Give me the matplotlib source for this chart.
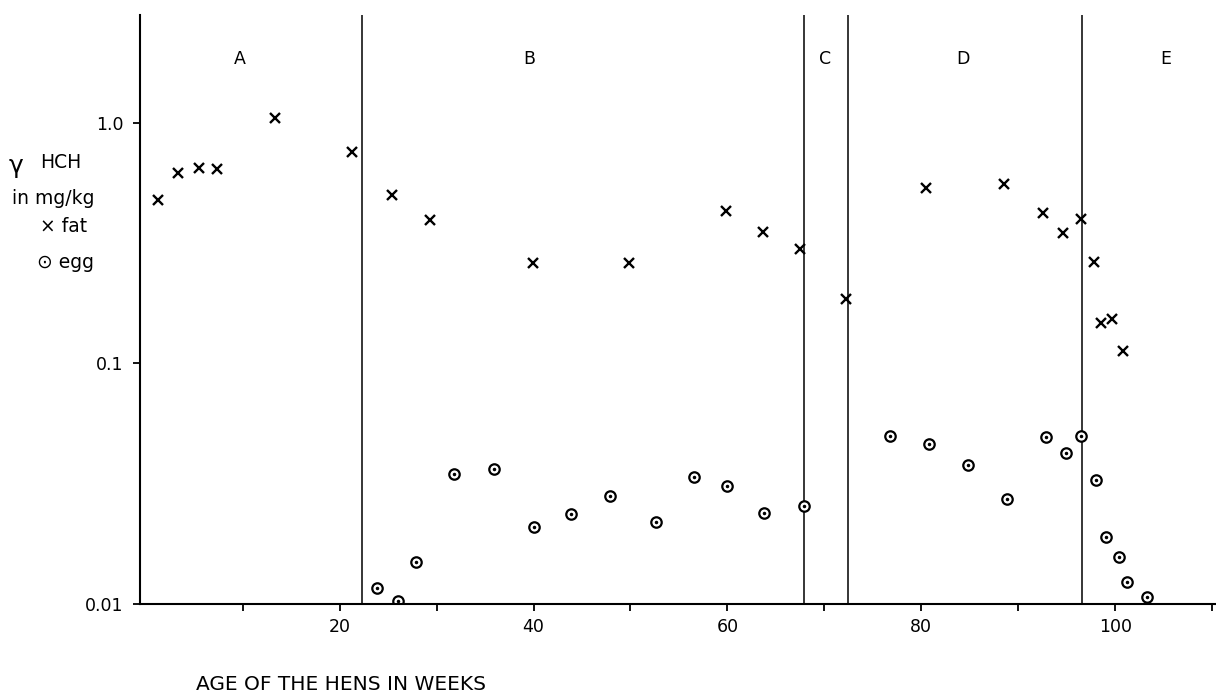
import numpy as np
import matplotlib.pyplot as plt

# gamma-HCH in fat (x) and egg (o)
fat_week = [1.3, 3.3, 5.5, 7.3, 13.3, 21.3, 25.4, 29.3, 39.9, 49.8, 59.9, 63.7, 67.5,
            72.2, 80.5, 88.5, 92.6, 94.6, 96.5, 97.8, 98.5, 99.7, 100.8]
fat_val = [0.478, 0.621, 0.648, 0.641, 1.05, 0.76, 0.50, 0.395, 0.262, 0.262, 0.432, 0.353, 0.298,
           0.185, 0.535, 0.557, 0.424, 0.350, 0.399, 0.265, 0.148, 0.153, 0.113]

egg_week = [23.9, 26.0, 27.9, 31.8, 35.9, 40.0, 43.9, 47.9, 52.6, 56.6, 60.0, 63.8, 67.9,
            76.8, 80.8, 84.8, 88.8, 92.9, 94.9, 96.5, 98.0, 99.1, 100.4, 101.2, 103.3]
egg_val = [0.0117, 0.0103, 0.0149, 0.0346, 0.0364, 0.0208, 0.0237, 0.0282, 0.0219, 0.0338, 0.0310, 0.0240, 0.0256,
           0.0501, 0.0463, 0.0379, 0.0273, 0.0496, 0.0423, 0.0500, 0.0327, 0.0189, 0.0157, 0.0123, 0.0107]

# phase boundaries and phase names
bounds = [22.3, 67.9, 72.4, 96.6]
phases = ["A", "B", "C", "D", "E"]
phase_x = [9.7, 39.6, 70.1, 84.3, 105.2]

fig = plt.figure(figsize=(12.16, 6.92), dpi=100)
ax = fig.add_axes([0.1151, 0.1272, 0.8849, 0.8511])

ax.set_yscale("log")
ax.set_xlim(-0.6, 110.4)
ax.set_ylim(0.01, 2.81)

for b in bounds:
    ax.axvline(b, color="black", lw=1.1)

ax.plot(fat_week, fat_val, ls="none", marker="x", ms=6.5, mew=1.7, color="black")
ax.plot(egg_week, egg_val, ls="none", marker="o", ms=7.5, mew=1.6, mfc="white", mec="black")
ax.plot(egg_week, egg_val, ls="none", marker="o", ms=1.5, color="black")

for name, px in zip(phases, phase_x):
    ax.text(px, 1.85, name, ha="center", va="center", fontsize=12.5)

ax.spines["top"].set_visible(False)
ax.spines["right"].set_visible(False)
ax.spines["left"].set_linewidth(1.5)
ax.spines["bottom"].set_linewidth(1.5)

ax.set_xticks([20, 40, 60, 80, 100])
ax.set_xticklabels(["20", "40", "60", "80", "100"])
ax.set_xticks([10, 30, 50, 70, 90, 110], minor=True)
ax.set_yticks([0.01, 0.1, 1.0])
ax.set_yticklabels(["0.01", "0.1", "1.0"])
ax.yaxis.set_minor_locator(plt.NullLocator())
ax.tick_params(axis="both", which="both", direction="out", length=5, width=1.3, labelsize=12.5)
ax.tick_params(axis="x", pad=5)
ax.tick_params(axis="y", pad=7)

fig.text(196 / 1216, 1 - 690 / 692, "AGE OF THE HENS IN WEEKS", fontsize=14.5,
         ha="left", va="baseline")

fig.text(9 / 1216, 1 - 166 / 692, "γ", fontsize=18, ha="left", va="center")
fig.text(40 / 1216, 1 - 162 / 692, "HCH", fontsize=13.5, ha="left", va="center")
fig.text(12 / 1216, 1 - 198 / 692, "in mg/kg", fontsize=13.5, ha="left", va="center")
fig.text(40 / 1216, 1 - 226 / 692, "× fat", fontsize=13.5, ha="left", va="center")
fig.text(37 / 1216, 1 - 262 / 692, "⊙ egg", fontsize=13.5, ha="left", va="center")

fig.savefig("out.png", dpi=100)
